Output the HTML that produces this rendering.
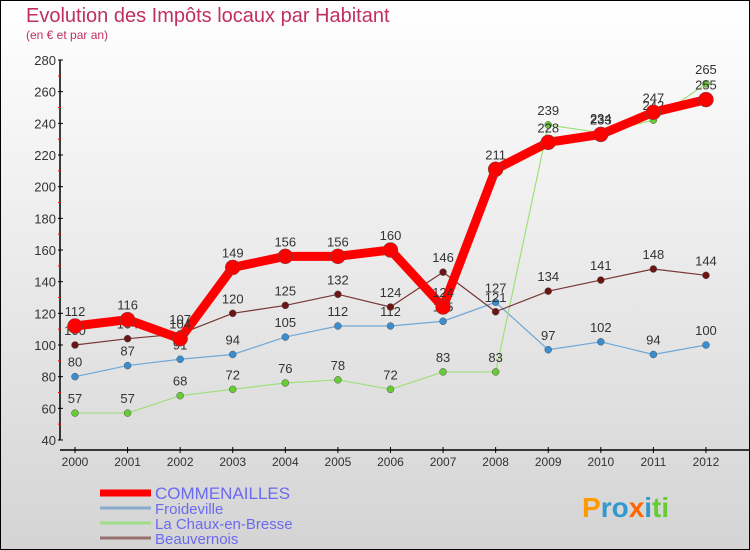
<!DOCTYPE html>
<html><head><meta charset="utf-8"><style>
body{margin:0}
#c{width:750px;height:550px;position:relative;background:linear-gradient(#ffffff,#d4d4d4);font-family:"Liberation Sans",sans-serif;overflow:hidden;box-sizing:border-box;border:1px solid #000}
</style></head><body>
<div id="c">
<svg id="s" width="750" height="550" style="position:absolute;left:-1px;top:-1px">
<text x="26" y="22" font-size="20" fill="#c0305f">Evolution des Impôts locaux par Habitant</text>
<text x="26" y="39" font-size="12" fill="#c0305f">(en € et par an)</text>
</svg>
</div>
<script>
const years=["2000","2001","2002","2003","2004","2005","2006","2007","2008","2009","2010","2011","2012"];
const commenailles=[112,116,104,149,156,156,160,124,211,228,233,247,255];
const froideville=[80,87,91,94,105,112,112,115,127,97,102,94,100];
const chaux=[57,57,68,72,76,78,72,83,83,239,234,242,265];
const beauvernois=[100,104,107,120,125,132,124,146,121,134,141,148,144];
const yTicks=[40,60,80,100,120,140,160,180,200,220,240,260,280];
const ns="http://www.w3.org/2000/svg";
const s=document.getElementById('s');
const X=i=>75+i*52.58;
const Y=v=>440-(v-40)*380/240;
function el(t,a,p){const e=document.createElementNS(ns,t);for(const k in a)e.setAttribute(k,a[k]);(p||s).appendChild(e);return e;}
// axes
let ya=el('line',{x1:60,y1:60,x2:60,y2:440,stroke:'#000','stroke-width':1.5});


yTicks.forEach((v,i)=>{
  el('line',{x1:58,x2:63,y1:Y(v),y2:Y(v),stroke:'#000'});
  if(i<yTicks.length-1) el('line',{x1:58,x2:61,y1:Y(v+10),y2:Y(v+10),stroke:'#f00'});
  const t=el('text',{x:56,y:Y(v)+5,'text-anchor':'end','font-size':13,fill:'#333'});
  t.textContent=v;
  
  
});
let xa=el('line',{x1:60,y1:450,x2:750,y2:450,stroke:'#000','stroke-width':1.5});


years.forEach((y,i)=>{
  el('line',{x1:X(i),x2:X(i),y1:447,y2:453,stroke:'#000'});
  const t=el('text',{x:X(i),y:466,'text-anchor':'middle','font-size':12,fill:'#333'});
  t.textContent=y;
  
  
});
function series(data,color,w,r,name,dot){
  const g=el('g',{});
  
  
  el('polyline',{points:data.map((v,i)=>X(i)+','+Y(v)).join(' '),fill:'none',stroke:color,'stroke-width':w,'stroke-linejoin':'round'},g);
  data.forEach((v,i)=>{
    const c=el('circle',{cx:X(i),cy:Y(v),r:r,fill:dot,stroke:'#555','stroke-width':0.5},g);
    
    
    const t=el('text',{x:X(i),y:Y(v)-10,'text-anchor':'middle','font-size':13,fill:'#333'},g);
    t.textContent=v;
    
    
  });
}
series(froideville,'#6fa8d8',1.2,3.5,'froideville','#3a8ed0');
series(chaux,'#9ee07a',1.2,3.5,'la-chaux-series','#66cc33');
series(beauvernois,'#7a3535',1.2,3.5,'beauvernois','#6b1515');
series(commenailles,'#ff0000',9,7.5,'commenailles','#ff0000');
// legend
const leg=[["COMMENAILLES","#ff0000",7],["Froideville","#88aacc",3],["La Chaux-en-Bresse","#a0dd88",3],["Beauvernois","#997070",3]];
leg.forEach((l,i)=>{
  const yy=493+i*15;
  const ln=el('line',{x1:100,x2:151,y1:yy,y2:yy,stroke:l[1],'stroke-width':l[2]});
  
  
  const t=el('text',{x:155,y:yy+6,'font-size':i==0?17:15,fill:'#6a6af0'});
  t.textContent=l[0];
  
  
});
const lg=el('text',{x:582,y:517,'font-size':28,'font-weight':'bold',fill:'#3399cc'});
lg.innerHTML='<tspan fill="#ff9900">P</tspan><tspan fill="#3399cc">ro</tspan><tspan fill="#ff6600">x</tspan><tspan fill="#3399cc">i</tspan><tspan fill="#66cc33">ti</tspan>';


</script>
</body></html>
